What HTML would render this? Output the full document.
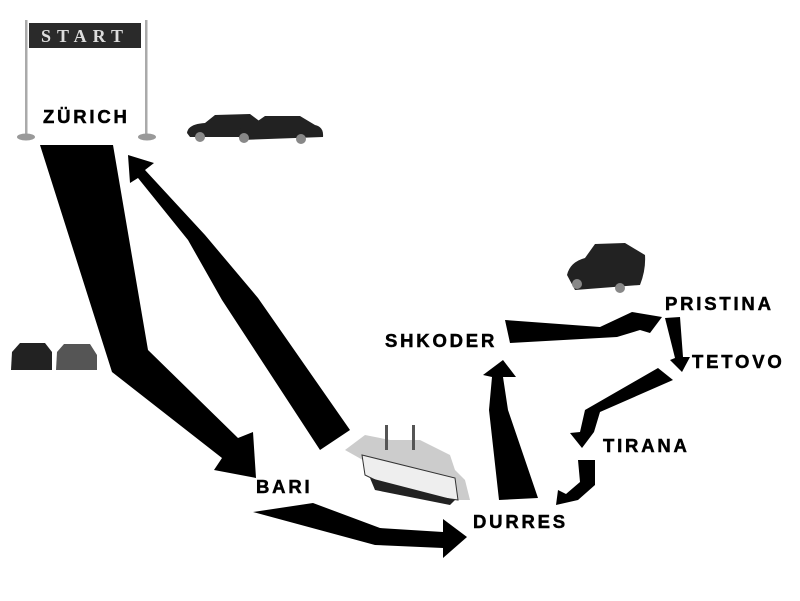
<!DOCTYPE html>
<html><head><meta charset="utf-8"><style>
body{margin:0;background:#fff;width:800px;height:601px;overflow:hidden;position:relative}
.l{position:absolute;font-family:"Liberation Sans",sans-serif;font-weight:bold;font-size:18.5px;letter-spacing:2.8px;color:#000;line-height:1;-webkit-text-stroke:0.5px #000}
</style></head><body>
<svg width="800" height="601" style="position:absolute;left:0;top:0">
<rect x="25" y="20" width="2.5" height="118" fill="#aaa"/>
<rect x="145" y="20" width="2.5" height="118" fill="#aaa"/>
<ellipse cx="26" cy="137" rx="9" ry="3.5" fill="#999"/>
<ellipse cx="147" cy="137" rx="9" ry="3.5" fill="#999"/>
<rect x="29" y="23" width="112" height="25" fill="#2a2a2a"/>
<text x="85" y="42" text-anchor="middle" font-family="Liberation Serif,serif" font-weight="bold" font-size="18" letter-spacing="6" fill="#ddd">START</text>
<g fill="#222">
<path d="M187 133 Q188 124 205 123 L215 115 L250 114 L262 123 Q262 133 258 137 L190 137Z"/>
<path d="M238 135 Q238 124 255 123 L265 116 L300 116 L315 125 Q324 127 323 137 L240 140Z"/>
<path d="M567 275 Q570 262 585 258 L595 244 L625 243 L645 255 Q646 270 640 285 L575 290Z"/>
<path d="M11 370 L12 352 L20 343 L45 343 L52 352 L52 370Z"/>
<path d="M56 370 L57 352 L64 344 L90 344 L97 355 L97 370Z" fill="#555"/>
</g>
<g fill="#888"><circle cx="200" cy="137" r="5"/><circle cx="244" cy="138" r="5"/><circle cx="301" cy="139" r="5"/><circle cx="577" cy="284" r="5"/><circle cx="620" cy="288" r="5"/></g>
<path d="M345 450 Q380 470 420 490 L455 500 L470 500 L465 480 L455 470 L450 455 L420 440 L390 440 L365 435Z" fill="#ccc"/>
<path d="M362 455 L455 478 L458 500 L400 492 L365 475Z" fill="#eee" stroke="#333" stroke-width="1"/>
<path d="M370 478 L455 500 L450 505 L375 490Z" fill="#222"/>
<rect x="385" y="425" width="3" height="25" fill="#555"/><rect x="412" y="425" width="3" height="25" fill="#555"/>
<g fill="#000">
<polygon points="40,145 113,145 148,350 238,438 253,432 256,478 214,470 222,458 112,372"/>
<polygon points="128,155 154,163 145,170 205,235 258,298 350,430 320,450 222,300 188,240 138,178 130,183"/>
<polygon points="253,512 313,503 380,528 443,532 443,519 467,537 443,558 443,548 375,545"/>
<polygon points="503,360 516,377 503,377 508,410 538,498 499,500 489,410 492,377 483,375"/>
<polygon points="505,320 600,327 632,312 662,317 650,333 640,330 617,337 510,343"/>
<polygon points="665,318 680,317 683,357 690,357 682,372 670,360 675,358"/>
<polygon points="658,368 673,380 600,412 594,432 582,448 570,433 580,432 585,410"/>
<polygon points="578,460 595,460 595,485 578,500 556,505 558,490 566,494 580,482"/>
</g>
</svg>
<div class="l" style="left:43px;top:108px">ZÜRICH</div>
<div class="l" style="left:385px;top:332px">SHKODER</div>
<div class="l" style="left:256px;top:478px">BARI</div>
<div class="l" style="left:473px;top:513px">DURRES</div>
<div class="l" style="left:603px;top:437px">TIRANA</div>
<div class="l" style="left:692px;top:353px">TETOVO</div>
<div class="l" style="left:665px;top:295px">PRISTINA</div>
</body></html>
